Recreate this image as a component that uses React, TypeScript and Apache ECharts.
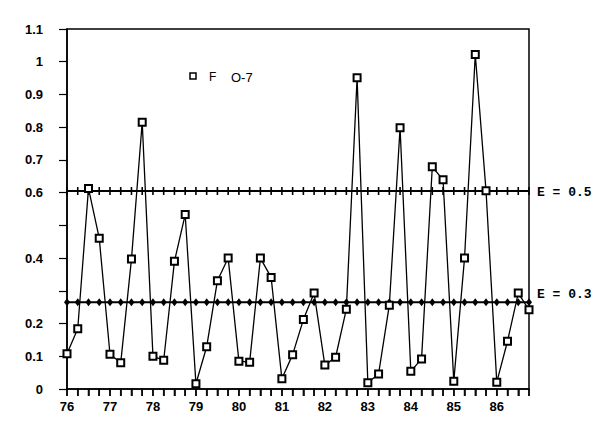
import React, { useEffect, useRef } from "react";
import * as echarts from "echarts";

// Quarterly categories, 1976 Q1 .. 1986 Q4
const years = ["76", "77", "78", "79", "80", "81", "82", "83", "84", "85", "86"];
const quarterNames = ["Q1", "Q2", "Q3", "Q4"];
const categories = years.flatMap((y) => quarterNames.map((q) => y + q));

// Series "F O-7" values
const fValues = [
  0.108, 0.184, 0.613, 0.461, 0.106, 0.080, 0.397, 0.815, 0.100, 0.088,
  0.390, 0.533, 0.016, 0.129, 0.331, 0.400, 0.085, 0.082, 0.400, 0.341,
  0.031, 0.105, 0.212, 0.293, 0.073, 0.097, 0.244, 0.951, 0.019, 0.046,
  0.256, 0.798, 0.054, 0.092, 0.679, 0.639, 0.024, 0.400, 1.022, 0.606,
  0.021, 0.146, 0.293, 0.242,
];

// Reference levels (as drawn)
const e05Level = 0.605;
const e03Level = 0.265;

const hiddenYLabels = [0.3, 0.5];

export default function App() {
  const ref = useRef<HTMLDivElement>(null);
  useEffect(() => {
    if (!ref.current) return;
    const chart = echarts.init(ref.current, null, { renderer: "svg" });
    const axisFont = {
      color: "#000",
      fontFamily: "Liberation Sans",
      fontWeight: "bold" as const,
      fontSize: 13,
    };
    const fData = fValues.map((v, i) => [i, v]);
    const e05Data = categories.map((_, i) => [i, e05Level]);
    const e03Data = categories.map((_, i) => [i, e03Level]);
    const tickData = categories.map((_, i) => [i, 0]);
    chart.setOption({
      animation: false,
      backgroundColor: "#fff",
      grid: {
        left: 67,
        right: 71,
        top: 29,
        bottom: 34,
        show: true,
        borderColor: "#000",
        borderWidth: 1.5,
      },
      xAxis: {
        type: "value",
        min: 0,
        max: categories.length - 1,
        interval: 1,
        axisLine: { show: true, onZero: false, lineStyle: { color: "#000", width: 1.5 } },
        axisTick: {
          show: true,
          inside: false,
          length: 7,
          lineStyle: { color: "#000", width: 1.5 },
        },
        axisLabel: {
          ...axisFont,
          margin: 11,
          showMaxLabel: true,
          showMinLabel: true,
          formatter: (v: number) => {
            const i = Math.round(v);
            return i % 4 === 0 && categories[i] ? categories[i].slice(0, 2) : "";
          },
        },
        splitLine: { show: false },
      },
      yAxis: {
        type: "value",
        min: 0,
        max: 1.1,
        interval: 0.1,
        axisLine: { show: true, lineStyle: { color: "#000", width: 1.5 } },
        axisTick: { show: true, length: 8, lineStyle: { color: "#000", width: 1.2 } },
        axisLabel: {
          ...axisFont,
          margin: 24,
          formatter: (v: number) => {
            if (hiddenYLabels.some((h) => Math.abs(h - v) < 1e-6)) return "";
            if (Math.abs(v) < 1e-9) return "0";
            if (Math.abs(v - 1) < 1e-9) return "1";
            return v.toFixed(1);
          },
        },
        splitLine: { show: false },
      },
      graphic: [
        {
          type: "rect",
          shape: { x: 190, y: 73, width: 6, height: 6 },
          style: { fill: "#fff", stroke: "#000", lineWidth: 1.5 },
        },
        {
          type: "text",
          x: 209,
          y: 77,
          style: {
            text: "F",
            fill: "#000",
            font: "12px 'Liberation Sans'",
            textVerticalAlign: "middle",
          },
        },
        {
          type: "text",
          x: 231,
          y: 77,
          style: {
            text: "O-7",
            fill: "#000",
            font: "13px 'Liberation Sans'",
            textVerticalAlign: "middle",
          },
        },
        {
          type: "text",
          x: 537,
          y: 192,
          style: {
            text: "E = 0.5",
            fill: "#000",
            font: "bold 13px 'Liberation Mono'",
            textVerticalAlign: "middle",
          },
        },
        {
          type: "text",
          x: 537,
          y: 294,
          style: {
            text: "E = 0.3",
            fill: "#000",
            font: "bold 13px 'Liberation Mono'",
            textVerticalAlign: "middle",
          },
        },
      ],
      series: [
        {
          name: "quarter ticks",
          type: "scatter",
          data: tickData,
          clip: false,
          silent: true,
          symbol: "rect",
          symbolSize: [1.6, 7],
          symbolOffset: [0, 3.5],
          itemStyle: { color: "#000" },
          z: 5,
        },
        {
          name: "E = 0.5",
          type: "line",
          data: e05Data,
          symbol: "rect",
          symbolSize: [1.6, 8],
          showAllSymbol: true,
          itemStyle: { color: "#000" },
          lineStyle: { color: "#000", width: 2 },
          z: 2,
        },
        {
          name: "E = 0.3",
          type: "line",
          data: e03Data,
          symbol: "diamond",
          symbolSize: [6, 8],
          showAllSymbol: true,
          itemStyle: { color: "#000" },
          lineStyle: { color: "#000", width: 2 },
          z: 2,
        },
        {
          name: "F O-7",
          type: "line",
          data: fData,
          symbol: "emptyRect",
          symbolSize: 7,
          showAllSymbol: true,
          itemStyle: { color: "#000", borderColor: "#000", borderWidth: 1.4 },
          lineStyle: { color: "#000", width: 1.3 },
          z: 3,
        },
      ],
    });
    return () => chart.dispose();
  }, []);
  return (
    <div
      ref={ref}
      style={{ position: "absolute", left: 0, top: 0, width: 600, height: 423 }}
    />
  );
}
